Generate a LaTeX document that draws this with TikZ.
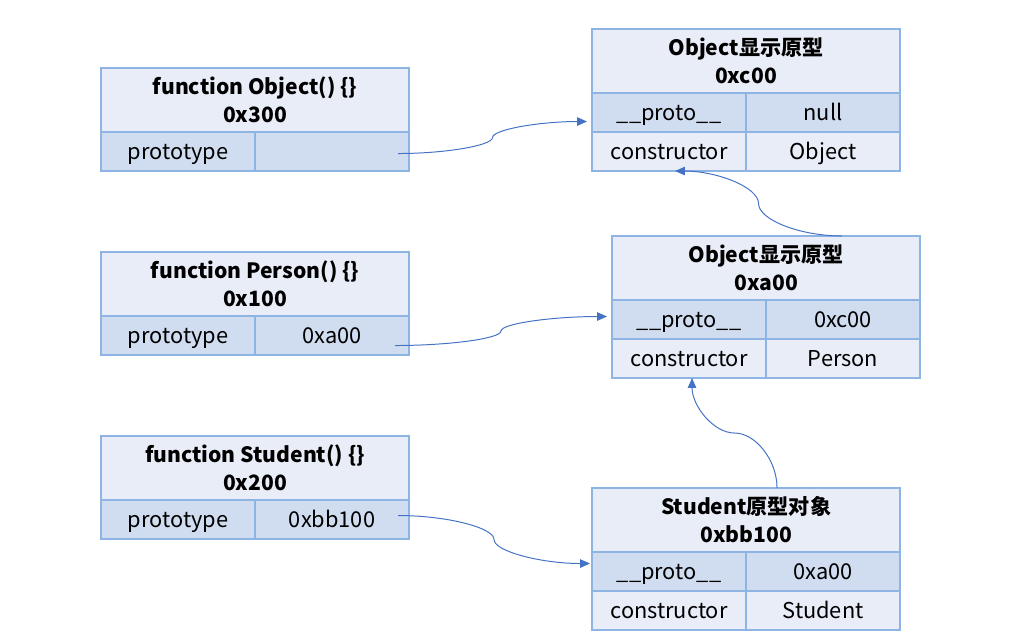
\documentclass[tikz,border=0pt]{standalone}
\usepackage{fontspec}
\setmainfont{Noto Sans CJK SC}
\usetikzlibrary{positioning,arrows.meta,calc}
\definecolor{boxline}{HTML}{8EB4E3}
\definecolor{boxlight}{HTML}{E9EDF7}
\definecolor{boxdark}{HTML}{D0DCEF}
\definecolor{linkblue}{HTML}{4472C4}
\tikzset{>={Triangle[length=7pt,width=6pt]}}
\tikzset{
  head/.style={draw=boxline, fill=boxlight, line width=1pt, minimum width=7.7cm,
    minimum height=1.6cm, inner sep=0pt, outer sep=0pt, align=center,
    font=\fontsize{15}{20}\selectfont\bfseries},
  cell/.style={draw=boxline, fill=boxlight, line width=1pt, minimum width=3.85cm,
    minimum height=0.975cm, inner sep=0pt, outer sep=0pt, text height=13.5pt, text depth=1.5pt,
    font=\fontsize{15.5}{20}\selectfont},
  darkcell/.style={cell, fill=boxdark},
  link/.style={->, draw=linkblue, line width=0.7pt}
}

\begin{document}
\begin{tikzpicture}[x=0.025cm, y=-0.025cm]
        \useasboundingbox (0,0) rectangle (1012,644);

        % function objects
        \node[head, anchor=north west] (objf) at (101,68) {function Object() \{\}\\0x300};
        \node[darkcell, below right=0pt of objf.south west] (objk) {prototype};
        \node[darkcell, right=0pt of objk] (objv) {};

        \node[head, anchor=north west] (perf) at (101,252) {function Person() \{\}\\0x100};
        \node[darkcell, below right=0pt of perf.south west] (perk) {prototype};
        \node[darkcell, right=0pt of perk] (perv) {0xa00};

        \node[head, anchor=north west] (stuf) at (101,436) {function Student() \{\}\\0x200};
        \node[darkcell, below right=0pt of stuf.south west] (stuk) {prototype};
        \node[darkcell, right=0pt of stuk] (stuv) {0xbb100};

        % prototype objects
        \node[head, anchor=north west] (objp) at (592,29) {Object显示原型\\0xc00};
        \node[darkcell, below right=0pt of objp.south west] (objpk) {\_\_proto\_\_};
        \node[darkcell, right=0pt of objpk] (objpv) {null};
        \node[cell, below=0pt of objpk] (objck) {constructor};
        \node[cell, right=0pt of objck] (objcv) {Object};

        \node[head, anchor=north west] (perp) at (612,236) {Object显示原型\\0xa00};
        \node[darkcell, below right=0pt of perp.south west] (perpk) {\_\_proto\_\_};
        \node[darkcell, right=0pt of perpk] (perpv) {0xc00};
        \node[cell, below=0pt of perpk] (perck) {constructor};
        \node[cell, right=0pt of perck] (percv) {Person};

        \node[head, anchor=north west] (stup) at (592,488) {Student原型对象\\0xbb100};
        \node[darkcell, below right=0pt of stup.south west] (stupk) {\_\_proto\_\_};
        \node[darkcell, right=0pt of stupk] (stupv) {0xa00};
        \node[cell, below=0pt of stupk] (stuck) {constructor};
        \node[cell, right=0pt of stuck] (stucv) {Student};

        % connector ends
        \coordinate (s1) at ([shift={(-11,2)}]objv.east);
        \coordinate (e1) at ([shift={(-5,9)}]objpk.west);
        \coordinate (m1) at ($(s1)!0.5!(e1)$);
        \coordinate (s2) at ([shift={(-14,10)}]perv.east);
        \coordinate (e2) at ([shift={(-5,-3)}]perpk.west);
        \coordinate (m2) at ($(s2)!0.5!(e2)$);
        \coordinate (s3) at ([shift={(-11,-4)}]stuv.east);
        \coordinate (e3) at ([shift={(-2,-8)}]stupk.west);
        \coordinate (m3) at ($(s3)!0.5!(e3)$);
        \coordinate (s4) at ([shift={(76,0)}]perp.north);
        \coordinate (e4) at ([shift={(6,0)}]objck.south);
        \coordinate (m4) at ($(s4)!0.5!(e4)$);
        \coordinate (s5) at ([shift={(31,0)}]stup.north);
        \coordinate (e5) at ([shift={(3,0)}]perck.south);
        \coordinate (m5) at ($(s5)!0.5!(e5)$);

        \draw[link] (s1) to[out=0, in=-90, out distance=1.18cm, in distance=0.2cm] (m1)
                         to[out=90, in=180, out distance=0.2cm, in distance=1.18cm] (e1);
        \draw[link] (s2) to[out=0, in=-90, out distance=1.33cm, in distance=0.19cm] (m2)
                         to[out=90, in=180, out distance=0.19cm, in distance=1.33cm] (e2);
        \draw[link] (s3) to[out=0, in=90, out distance=1.2cm, in distance=0.3cm] (m3)
                         to[out=-90, in=180, out distance=0.3cm, in distance=1.2cm] (e3);
        \draw[link] (s4) to[out=180, in=-90, out distance=1.04cm, in distance=0.41cm] (m4)
                         to[out=90, in=0, out distance=0.41cm, in distance=1.04cm] (e4);
        \draw[link] (s5) to[out=90, in=0, out distance=0.69cm, in distance=0.53cm] (m5)
                         to[out=180, in=-90, out distance=0.53cm, in distance=0.69cm] (e5);
\end{tikzpicture}
\end{document}
